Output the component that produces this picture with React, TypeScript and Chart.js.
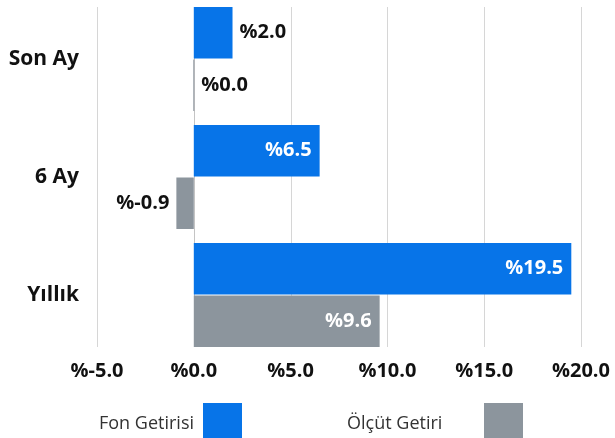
import React, { useEffect, useRef } from "react";
import { Chart, registerables } from "chart.js";

Chart.register(...registerables);

const categories = ["Son Ay", "6 Ay", "Yıllık"];
const seriesNames = ["Fon Getirisi", "Ölçüt Getiri"];
const fundReturns = [2.0, 6.5, 19.5];
const benchmarkReturns = [0.0, -0.9, 9.6];
const xMin = -5;
const xMax = 20;
const xStep = 5;

const BLUE = "#0774E8";
const GRAY = "#8C959D";
const FONT = "'Open Sans', 'DejaVu Sans', sans-serif";
const fmt = (v: number) => "%" + v.toFixed(1);

const gridPlugin = {
  id: "customGrid",
  beforeDatasetsDraw(chart: any) {
    const ctx = chart.ctx;
    const m0 = chart.getDatasetMeta(0).data;
    const m1 = chart.getDatasetMeta(1).data;
    const first = m0[0] as any;
    const last = m1[m1.length - 1] as any;
    const top = first.y - first.height / 2;
    const bottom = last.y + last.height / 2;
    const xs = chart.scales.x;
    ctx.save();
    for (let v = xMin; v <= xMax; v += xStep) {
      const x = Math.round(xs.getPixelForValue(v)) + 0.5;
      ctx.strokeStyle = v === 0 ? "#c4c4c4" : "#d6d6d6";
      ctx.lineWidth = 1;
      ctx.beginPath();
      ctx.moveTo(x, top);
      ctx.lineTo(x, bottom);
      ctx.stroke();
    }
    ctx.restore();
  },
};

const labelPlugin = {
  id: "barLabels",
  afterDatasetsDraw(chart: any) {
    const ctx = chart.ctx;
    ctx.save();
    ctx.font = `700 20px ${FONT}`;
    ctx.textBaseline = "middle";
    chart.data.datasets.forEach((ds: any, di: number) => {
      const meta = chart.getDatasetMeta(di);
      meta.data.forEach((el: any, i: number) => {
        const v = ds.data[i] as number;
        const text = fmt(v);
        const w = ctx.measureText(text).width;
        const len = Math.abs(el.x - el.base);
        if (len > w + 18) {
          ctx.fillStyle = "#ffffff";
          if (v >= 0) {
            ctx.textAlign = "right";
            ctx.fillText(text, el.x - 8, el.y);
          } else {
            ctx.textAlign = "left";
            ctx.fillText(text, el.x + 8, el.y);
          }
        } else {
          ctx.fillStyle = "#111111";
          if (v >= 0) {
            ctx.textAlign = "left";
            ctx.fillText(text, Math.max(el.x, el.base) + 7, el.y);
          } else {
            ctx.textAlign = "right";
            ctx.fillText(text, Math.min(el.x, el.base) - 7, el.y);
          }
        }
      });
    });
    ctx.restore();
  },
};

const legendPlugin = {
  id: "customLegend",
  afterDraw(chart: any) {
    const ctx = chart.ctx;
    const items = [
      { text: seriesNames[0], color: BLUE, tx: 99, bx: 203 },
      { text: seriesNames[1], color: GRAY, tx: 347, bx: 484 },
    ];
    ctx.save();
    ctx.font = `400 18px ${FONT}`;
    ctx.textBaseline = "middle";
    ctx.textAlign = "left";
    items.forEach((it) => {
      ctx.fillStyle = "#333333";
      ctx.fillText(it.text, it.tx, 424);
      ctx.fillStyle = it.color;
      ctx.fillRect(it.bx, 403, 39, 35);
    });
    ctx.restore();
  },
};

export default function App() {
  const ref = useRef<HTMLCanvasElement | null>(null);
  useEffect(() => {
    if (!ref.current) return;
    const chart = new Chart(ref.current, {
      type: "bar",
      data: {
        labels: categories,
        datasets: [
          {
            label: seriesNames[0],
            data: fundReturns,
            backgroundColor: BLUE,
            categoryPercentage: 0.89,
            barPercentage: 0.98,
            minBarLength: 1,
          },
          {
            label: seriesNames[1],
            data: benchmarkReturns,
            backgroundColor: GRAY,
            categoryPercentage: 0.89,
            barPercentage: 0.98,
            minBarLength: 1,
          },
        ],
      },
      options: {
        indexAxis: "y",
        responsive: false,
        animation: false,
        layout: { padding: { top: 0, right: 32, bottom: 0, left: 0 } },
        plugins: { legend: { display: false }, tooltip: { enabled: false } },
        scales: {
          x: {
            type: "linear",
            min: xMin,
            max: xMax,
            grid: { display: false, drawTicks: false },
            border: { display: false },
            ticks: {
              stepSize: xStep,
              callback: (v: any) => fmt(Number(v)),
              font: { family: FONT, size: 20, weight: "700" },
              color: "#111111",
              padding: 5,
              maxRotation: 0,
            },
            afterFit: (s: any) => {
              s.height = 84;
            },
          },
          y: {
            type: "category",
            grid: { display: false, drawTicks: false },
            border: { display: false },
            ticks: {
              font: { family: FONT, size: 21, weight: "700" },
              color: "#111111",
              padding: 18,
            },
            afterFit: (s: any) => {
              s.width = 97;
              s.paddingTop = 0;
              s.paddingBottom = 0;
            },
          },
        },
      },
      plugins: [gridPlugin, labelPlugin, legendPlugin],
    } as any);
    return () => chart.destroy();
  }, []);
  return (
    <div style={{ position: "fixed", left: 0, top: 0, width: 615, height: 438, background: "#fff" }}>
      <canvas ref={ref} width={615} height={438} style={{ display: "block" }} />
    </div>
  );
}
